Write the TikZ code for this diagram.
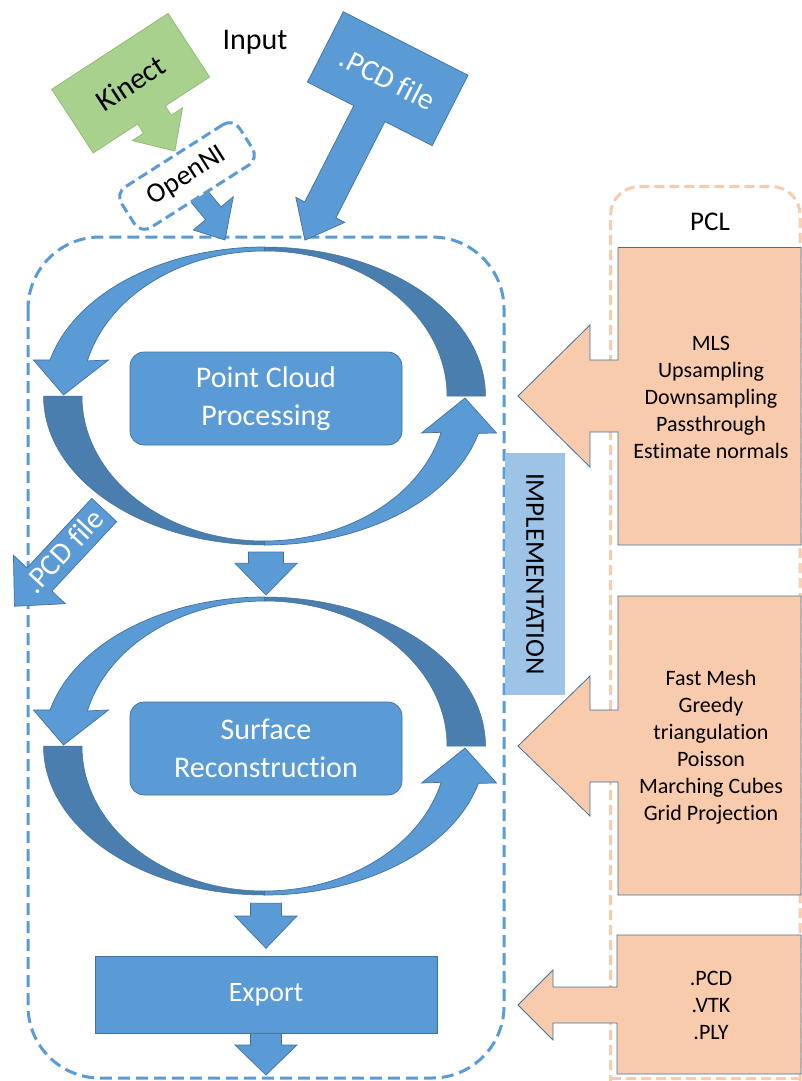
\documentclass[tikz,border=0pt]{standalone}
\usepackage{fontspec}
\setmainfont{Carlito}[Ligatures=NoCommon]
\definecolor{cblue}{HTML}{5B9BD5}
\definecolor{cbord}{HTML}{41719C}
\definecolor{cdark}{HTML}{4A7EAF}
\definecolor{cgreen}{HTML}{A9D18E}
\definecolor{cgreenb}{HTML}{8FB872}
\definecolor{corange}{HTML}{F8CBAD}
\definecolor{cimpl}{HTML}{9DC3E6}
\newcommand{\stk}[1]{\begin{tabular}[t]{@{}c@{}}#1\end{tabular}}
\tikzset{
  blueshape/.style={fill=cblue, draw=cbord, line width=0.7pt},
  darkshape/.style={fill=cdark, draw=cbord, line width=0.5pt},
  orangeshape/.style={fill=corange, draw=cbord, line width=0.8pt},
  greenshape/.style={fill=cgreen, draw=cgreenb, line width=0.7pt},
  maindash/.style={draw=cblue, line width=3pt, dash pattern=on 12pt off 6pt},
  pcldash/.style={draw=corange, line width=3pt, dash pattern=on 10pt off 5pt},
  bigtxt/.style={font=\fontsize{30}{38}\selectfont},
  smalltxt/.style={font=\fontsize{22}{27}\selectfont},
  procbox/.style={blueshape, rounded corners=14pt, minimum width=272pt, minimum height=93pt, text=white, align=center, inner sep=0pt, bigtxt},
}
\newcommand{\cyclearrow}[2]{%
\begin{scope}[shift={(#1,#2)}]
 \path[blueshape] (0,149) arc[start angle=90,end angle=166,x radius=221,y radius=149] -- (-231,36) -- (-201,1) -- (-156,36) -- (166:182.5 and 145) arc[start angle=166,end angle=90,x radius=182.5,y radius=145] -- cycle;
 \path[darkshape] (-221,0) arc[start angle=180,end angle=270,x radius=221,y radius=149] -- (0,-145) arc[start angle=270,end angle=180,x radius=182.5,y radius=145] -- cycle;
 \path[blueshape] (0,-149) arc[start angle=270,end angle=345.5,x radius=221,y radius=149] -- (232,-37) -- (200.5,-2) -- (157,-37) -- (345.5:182.5 and 145) arc[start angle=345.5,end angle=270,x radius=182.5,y radius=145] -- cycle;
 \path[darkshape] (221,0) arc[start angle=0,end angle=90,x radius=221,y radius=149] -- (0,145) arc[start angle=90,end angle=0,x radius=182.5,y radius=145] -- cycle;
\end{scope}}
\begin{document}
\begin{tikzpicture}[x=1pt,y=1pt]
\useasboundingbox (0,0) rectangle (802,-1081);
\clip (0,0) rectangle (802,-1081);

% PCL dashed container
\draw[pcldash, rounded corners=28pt] (610.7,-1130) -- (610.7,-186.7) -- (800,-186.7) -- (800,-1130);
\draw[pcldash] (610.7,-1078) -- (800,-1078);
\node[font=\fontsize{27}{32}\selectfont, anchor=base] (pcl) at (710,-230) {PCL};

% orange callouts
\path[orangeshape] (801,-247.5) -- (618,-247.5) -- (618,-360) -- (590,-360) -- (590,-325) -- (518,-396) -- (590,-467) -- (590,-432) -- (618,-432) -- (618,-545) -- (801,-545) -- cycle;
\node[smalltxt, anchor=base] (pclA) at (711,-350) {\stk{MLS\\Upsampling\\Downsampling\\Passthrough\\Estimate normals}};
\path[orangeshape] (801,-596) -- (618,-596) -- (618,-710) -- (590,-710) -- (590,-676) -- (518,-746) -- (590,-816) -- (590,-782) -- (618,-782) -- (618,-895) -- (801,-895) -- cycle;
\node[smalltxt, anchor=base] (pclB) at (711,-685) {\stk{Fast Mesh\\Greedy\\triangulation\\Poisson\\Marching Cubes\\Grid Projection}};
\path[orangeshape] (801,-935) -- (617,-935) -- (617,-987) -- (553,-987) -- (553,-970) -- (518,-1005) -- (553,-1040) -- (553,-1023) -- (617,-1023) -- (617,-1074) -- (801,-1074) -- cycle;
\node[smalltxt, anchor=base] (pclC) at (711,-985) {\stk{.PCD\\.VTK\\.PLY}};

% main dashed container
\draw[maindash, rounded corners=72pt] (28,-237) rectangle (504,-1078);

% implementation bar
\node[fill=cimpl, minimum width=242pt, minimum height=60pt, rotate=-90, inner sep=0pt, font=\fontsize{27}{30}\selectfont] (impl) at (535,-574) {IMPLEMENTATION};

% cycle arrows
\cyclearrow{264.5}{-396}
\cyclearrow{264.5}{-746}

\node[procbox] (pcp) at (266,-398.5) {Point Cloud\\Processing};
\node[procbox] (sr) at (266,-748.5) {Surface\\Reconstruction};

% down arrows
\path[blueshape] (248.5,-552) -- (283.5,-552) -- (283.5,-563.3) -- (297,-563.3) -- (266,-595) -- (235,-563.3) -- (248.5,-563.3) -- cycle;
\path[blueshape] (250.5,-903.3) -- (281.5,-903.3) -- (281.5,-916) -- (297,-916) -- (266,-948.3) -- (235,-916) -- (250.5,-916) -- cycle;
\node[blueshape, minimum width=342pt, minimum height=76.6pt, inner sep=0pt, text=white, font=\fontsize{28}{34}\selectfont] (export) at (266,-995) {Export};
\path[blueshape] (250.5,-1033.3) -- (281.5,-1033.3) -- (281.5,-1045) -- (297,-1045) -- (266,-1075) -- (235,-1045) -- (250.5,-1045) -- cycle;

% left .PCD file output arrow
\begin{scope}[shift={(104.2,-510)}, rotate=47]
 \path[blueshape] (0,17) -- (-95,17) -- (-95,35.5) -- (-131.6,0) -- (-95,-35.5) -- (-95,-17) -- (0,-17) -- cycle;
 \node[bigtxt, text=white, transform shape] (pcdout) at (-57.5,2) {.PCD file};
\end{scope}

% Kinect callout
\begin{scope}[shift={(51.7,-89.3)}, rotate=33.1]
 \path[greenshape] (0,0) -- (139,0) -- (139,-76) -- (86,-76) -- (86,-87) -- (99.5,-87) -- (69.5,-119) -- (39.5,-87) -- (53,-87) -- (53,-76) -- (0,-76) -- cycle;
 \node[bigtxt, transform shape] (kinect) at (69.5,-38) {Kinect};
\end{scope}

% OpenNI arrow and box
\path[blueshape] (183.2,-192.8) -- (205.6,-219.7) -- (193.3,-230) -- (225,-240) -- (233.3,-196.7) -- (221,-206.9) -- (198.6,-180) -- cycle;
\node[draw=cblue, line width=3pt, dash pattern=on 10pt off 5pt, fill=white, rounded corners=12pt, minimum width=140pt, minimum height=48pt, rotate=32.5, font=\fontsize{28}{34}\selectfont] (openni) at (187,-176) {OpenNI};

% .PCD file input callout
\begin{scope}[shift={(343.3,-11.7)}, rotate=-27]
 \path[blueshape] (0,0) -- (140,0) -- (140,-79) -- (87,-79) -- (87,-187) -- (97,-187) -- (69.5,-221) -- (42,-187) -- (52,-187) -- (52,-79) -- (0,-79) -- cycle;
 \node[bigtxt, text=white, transform shape] (pcdin) at (70,-39.5) {.PCD file};
\end{scope}

\node[font=\fontsize{30}{36}\selectfont, anchor=base] (input) at (255,-50) {Input};
\end{tikzpicture}
\end{document}
